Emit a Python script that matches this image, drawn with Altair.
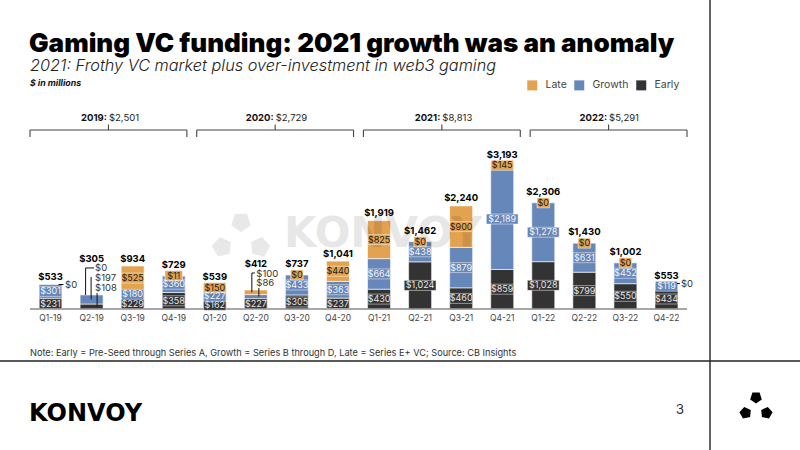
import altair as alt
import pandas as pd

# ---- data ($ in millions) ----
quarters = ["Q1-19", "Q2-19", "Q3-19", "Q4-19", "Q1-20", "Q2-20", "Q3-20", "Q4-20",
            "Q1-21", "Q2-21", "Q3-21", "Q4-21", "Q1-22", "Q2-22", "Q3-22", "Q4-22"]
early = [231, 108, 229, 358, 162, 227, 305, 237, 430, 1024, 460, 859, 1028, 799, 550, 434]
growth = [301, 197, 180, 360, 227, 86, 433, 363, 664, 438, 879, 2189, 1278, 631, 452, 119]
late = [0, 0, 525, 11, 150, 100, 0, 440, 825, 0, 900, 145, 0, 0, 0, 0]
totals = [533, 305, 934, 729, 539, 412, 737, 1041, 1919, 1462, 2240, 3193, 2306, 1430, 1002, 553]
years = ["2019", "2020", "2021", "2022"]
year_totals = [2501, 2729, 8813, 5291]

stages = ["Late", "Growth", "Early"]
stage_colors = ["#E3A24F", "#6687BA", "#333333"]
text_colors = {"Early": "#e6e6e6", "Growth": "#f4f4f4", "Late": "#222222"}

# ---- canvas geometry: the whole slide is one plot area ----
W, H = 800, 450
PXU = 657 / 16.0          # pixels per quarter slot
KY = 147 / 3193.0         # pixels per $1M
BASE_PX = 309             # pixel row of the zero line
XDOM = [-0.5 - 30 / PXU, 15.5 + (W - 687) / PXU]
YDOM = [-(H - BASE_PX) / KY, BASE_PX / KY]
xs = alt.Scale(domain=XDOM, nice=False, zero=False)
ys = alt.Scale(domain=YDOM, nice=False, zero=False)

FONT = "Inter"
HEAVY = "DejaVu Sans"


def money(v):
    return "${:,}".format(v)


# ---- stacked segments ----
outside = {(0, "Late"), (1, "Early"), (1, "Growth"), (1, "Late"),
           (5, "Growth"), (5, "Late"), (15, "Late")}
rows, tops = [], []
for i, q in enumerate(quarters):
    base = 0
    for stage, vals in (("Early", early), ("Growth", growth), ("Late", late)):
        v = vals[i]
        txt = money(v)
        hw = (len(txt) * 4.8 + 3) / 2
        mid = base + v / 2
        rows.append(dict(idx=i, q=q, stage=stage, v=v, label=txt,
                         bx0=i - 11.5 / PXU, bx1=i + 11.5 / PXU,
                         y0=base, y1=base + v, mid=mid,
                         lx0=i - hw / PXU, lx1=i + hw / PXU,
                         ly0=mid - 5 / KY, ly1=mid + 5 / KY,
                         tcolor=text_colors[stage],
                         boxed=(i, stage) not in outside))
        base += v
    tops.append(base)
seg = pd.DataFrame(rows)


def top(i):
    return tops[i]


def mid(i, stage):
    return float(seg[(seg.idx == i) & (seg.stage == stage)].mid.iloc[0])


def lift(i, px):
    return tops[i] + px / KY


# total labels above each bar
lift_px = {i: 7.5 for i in range(16)}
for i in (6, 9, 12, 13, 14):
    lift_px[i] = 11
lift_px[3] = 10
lift_px[1] = 36
lift_px[5] = 26
tot = pd.DataFrame(dict(idx=list(range(16)), q=quarters,
                        label=[money(t) for t in totals],
                        ty=[lift(i, lift_px[i]) for i in range(16)]))

# values too thin to print inside their bar
callouts = [(0, "Late", 14.5, 0), (1, "Late", 3.5, 27), (1, "Growth", 3.5, 17),
            (1, "Early", 3.5, 7), (5, "Late", 0.5, 16), (5, "Growth", 0.5, 7),
            (15, "Late", 14.5, 0)]
co = pd.DataFrame([dict(cx=i + dx / PXU, cy=lift(i, rise),
                        label=money(seg[(seg.idx == i) & (seg.stage == s)].v.iloc[0]))
                   for i, s, dx, rise in callouts])
leaders = pd.DataFrame([
    dict(a=0 + 8 / PXU, ya=top(0), b=0 + 13 / PXU, yb=top(0)),
    dict(a=1 + 2.5 / PXU, ya=lift(1, 27), b=1 - 6 / PXU, yb=lift(1, 27)),
    dict(a=1 - 6 / PXU, ya=lift(1, 27), b=1 - 6 / PXU, yb=top(1)),
    dict(a=1 - 0.5 / PXU, ya=lift(1, 18), b=1 - 0.5 / PXU, yb=mid(1, "Growth")),
    dict(a=1 + 5.5 / PXU, ya=lift(1, 2), b=1 + 5.5 / PXU, yb=mid(1, "Early")),
    dict(a=5 - 1 / PXU, ya=lift(5, 17), b=5 - 4 / PXU, yb=lift(5, 17)),
    dict(a=5 - 4 / PXU, ya=lift(5, 17), b=5 - 4 / PXU, yb=mid(5, "Late")),
    dict(a=5 + 3 / PXU, ya=lift(5, 2), b=5 + 3 / PXU, yb=mid(5, "Growth")),
    dict(a=15 + 10.5 / PXU, ya=top(15), b=15 + 13.5 / PXU, yb=top(15)),
])

# year brackets
span = 3.82
brk = pd.DataFrame([dict(year=y + ":", amt=money(t),
                         l=-0.5 + g * 4.06, r=-0.5 + g * 4.06 + span,
                         c=-0.5 + g * 4.06 + span / 2)
                    for g, (y, t) in enumerate(zip(years, year_totals))])

one = pd.DataFrame({"k": [0]})
color = alt.Color("stage:N", scale=alt.Scale(domain=stages, range=stage_colors),
                  legend=alt.Legend(title=None, orient="none", legendX=527, legendY=80,
                                    direction="horizontal", symbolType="square",
                                    symbolSize=100, symbolStrokeWidth=0, padding=0,
                                    labelFont=FONT, labelFontSize=10.5, labelColor="#444",
                                    labelOffset=8, columnPadding=7))

X = lambda f: alt.X(f, scale=xs, axis=None)
Y = lambda f: alt.Y(f, scale=ys, axis=None)


def text_at(txt, x, y, **kw):
    return alt.Chart(one).mark_text(text=txt, align=kw.pop("align", "left"), **kw).encode(
        x=alt.value(x), y=alt.value(y))


bars = alt.Chart(seg[seg.v > 0]).mark_bar(stroke="white", strokeWidth=0.6).encode(
    x=X("bx0:Q"), x2="bx1:Q", y=Y("y0:Q"), y2="y1:Q", color=color)

baseline = alt.Chart(one).mark_rule(color="#8a8a8a", strokeWidth=1.6).encode(
    x=X("a:Q"), x2="b:Q", y=Y("z:Q")).transform_calculate(a="-0.5", b="15.5", z="0")

# faint brand watermark over the plot
wm_pts = pd.DataFrame(dict(px=[241, 222, 260], py=[222, 247, 247], ang=[180, 60, 300]))
blob = "M0,-1 L0.95,-0.31 L0.59,0.81 L-0.59,0.81 L-0.95,-0.31 Z"
wm_logo = alt.Chart(wm_pts).mark_point(shape=blob, filled=True, size=420, color="#000",
                                       opacity=0.09).encode(
    x=alt.X("px:Q", scale=None), y=alt.Y("py:Q", scale=None), angle=alt.Angle("ang:Q", scale=None))
wm_text = text_at("KONVOY", 284, 247, font=HEAVY, fontWeight="bold", fontSize=42,
                  color="#000", opacity=0.09, baseline="alphabetic")

boxes = alt.Chart(seg[seg.boxed]).mark_rect(stroke="white", strokeWidth=0.6, strokeOpacity=0.8).encode(
    x=X("lx0:Q"), x2="lx1:Q", y=Y("ly0:Q"), y2="ly1:Q",
    color=alt.Color("stage:N", scale=alt.Scale(domain=stages, range=stage_colors), legend=None))
box_text = alt.Chart(seg[seg.boxed]).mark_text(font=FONT, fontSize=9, baseline="middle").encode(
    x=X("idx:Q"), y=Y("mid:Q"), text="label:N", fill=alt.Fill("tcolor:N", scale=None))

tot_text = alt.Chart(tot).mark_text(font=FONT, fontSize=9.5, fontWeight="bold", color="#000",
                                    baseline="middle").encode(
    x=X("idx:Q"), y=Y("ty:Q"), text="label:N")
q_text = alt.Chart(tot).mark_text(font=FONT, fontSize=8.5, color="#444", baseline="middle").encode(
    x=X("idx:Q"), y=alt.value(317.5), text="q:N")

co_text = alt.Chart(co).mark_text(font=FONT, fontSize=9.5, color="#333", align="left",
                                  baseline="middle").encode(
    x=X("cx:Q"), y=Y("cy:Q"), text="label:N")
lead = alt.Chart(leaders).mark_rule(color="#111", strokeWidth=1).encode(
    x=X("a:Q"), x2="b:Q", y=Y("ya:Q"), y2="yb:Q")

brk_h = alt.Chart(brk).mark_rule(color="#444", strokeWidth=1.1).encode(
    x=X("l:Q"), x2="r:Q", y=alt.value(130))
brk_l = alt.Chart(brk).mark_rule(color="#444", strokeWidth=1.1).encode(
    x=X("l:Q"), y=alt.value(130), y2=alt.value(137))
brk_r = alt.Chart(brk).mark_rule(color="#444", strokeWidth=1.1).encode(
    x=X("r:Q"), y=alt.value(130), y2=alt.value(137))
brk_c = alt.Chart(brk).mark_rule(color="#444", strokeWidth=1.1).encode(
    x=X("c:Q"), y=alt.value(124.5), y2=alt.value(130))
brk_year = alt.Chart(brk).mark_text(font=FONT, fontSize=9.5, fontWeight="bold", color="#111",
                                    align="right", dx=-1.5).encode(
    x=X("c:Q"), y=alt.value(118), text="year:N")
brk_amt = alt.Chart(brk).mark_text(font=FONT, fontSize=9.5, color="#222", align="left",
                                   dx=0.5).encode(
    x=X("c:Q"), y=alt.value(118), text="amt:N")

# slide furniture
vline = alt.Chart(one).mark_rule(color="#222", strokeWidth=1.4).encode(
    x=alt.value(710), y=alt.value(0), y2=alt.value(H))
hline = alt.Chart(one).mark_rule(color="#222", strokeWidth=1.4).encode(
    x=alt.value(0), x2=alt.value(W), y=alt.value(361))

title = text_at("Gaming VC funding: 2021 growth was an anomaly", 29, 44, font=FONT,
                fontWeight=900, fontSize=26, color="#000")
subtitle = text_at("2021: Frothy VC market plus over-investment in web3 gaming", 30, 65.5,
                   font=FONT, fontStyle="italic", fontWeight=300, fontSize=16.3, color="#222")
units = text_at("$ in millions", 30, 83, font=FONT, fontStyle="italic", fontWeight="bold",
                fontSize=8.8, color="#111")
note = text_at("Note: Early = Pre-Seed through Series A, Growth = Series B through D, "
               "Late = Series E+ VC; Source: CB Insights", 30, 353, font=FONT, fontSize=9.2,
               color="#333")
brand = text_at("KONVOY", 29, 414, font=HEAVY, fontWeight="bold", fontSize=24, color="#000")
page = text_at("3", 680, 410, font=FONT, fontSize=13.5, color="#333", align="center")

logo_pts = pd.DataFrame(dict(px=[756, 745.5, 766.5], py=[397.5, 413, 413], ang=[180, 60, 300]))
logo = alt.Chart(logo_pts).mark_point(shape=blob, filled=True, size=150, color="#000",
                                      opacity=1).encode(
    x=alt.X("px:Q", scale=None), y=alt.Y("py:Q", scale=None), angle=alt.Angle("ang:Q", scale=None))

chart = alt.layer(
    bars, baseline, wm_logo, wm_text, boxes, box_text, tot_text, q_text, co_text, lead,
    brk_h, brk_l, brk_r, brk_c, brk_year, brk_amt,
    vline, hline, title, subtitle, units, note, brand, page, logo,
).properties(
    width=W, height=H, padding=0, background="white",
    autosize=alt.AutoSizeParams(type="none"),
).configure_view(stroke=None)

chart.save("out.html", embed_options={"renderer": "svg", "actions": False})
